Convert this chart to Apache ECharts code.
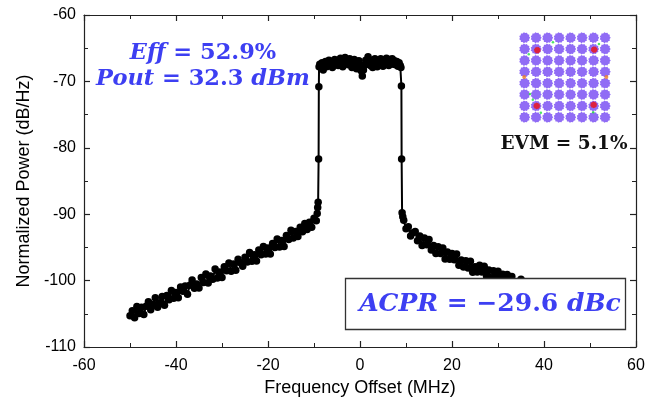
<!DOCTYPE html>
<html><head><meta charset="utf-8">
<script src="https://cdn.jsdelivr.net/npm/echarts@6/dist/echarts.min.js"></script>
<style>html,body{margin:0;padding:0;background:#fff}#c{width:660px;height:408px}</style>
</head><body><div id="c"></div>
<script>
// Spectrum data (MHz, dB/Hz)
const leftFreq = [-50,-49.5,-49,-48.5,-48,-47.5,-47,-46.5,-46,-45.5,-45,-44.5,-44,-43.5,-43,-42.5,-42,-41.5,-41,-40.5,-40,-39.5,-39,-38.5,-38,-37.5,-37,-36.5,-36,-35.5,-35,-34.5,-34,-33.5,-33,-32.5,-32,-31.5,-31,-30.5,-30,-29.5,-29,-28.5,-28,-27.5,-27,-26.5,-26,-25.5,-25,-24.5,-24,-23.5,-23,-22.5,-22,-21.5,-21,-20.5,-20,-19.5,-19,-18.5,-18,-17.5,-17,-16.5,-16,-15.5,-15,-14.5,-14,-13.5,-13,-12.5,-12,-11.5,-11,-10.5,-10,-9.5,-9.3,-9.2,-9.1,-9.0,-8.95,-8.9];
const leftPower = [-105.3,-104.55,-105.6,-103.9,-104.95,-104.0,-105.1,-103.85,-103.2,-104.4,-103.55,-102.6,-104.0,-103.35,-102.4,-103.7,-102.25,-102.9,-101.5,-102.65,-101.8,-102.6,-100.95,-101.6,-100.8,-102.05,-100.7,-99.9,-101.15,-100.5,-101.1,-99.55,-100.3,-99.0,-100.35,-99.3,-99.8,-98.25,-99.6,-98.7,-99.55,-97.9,-98.5,-97.35,-98.6,-97.5,-98.45,-96.8,-97.3,-97.85,-96.5,-97.2,-95.75,-97.1,-96.1,-97.05,-95.4,-96.1,-94.85,-96.0,-95.1,-96.0,-94.4,-95.0,-93.75,-94.95,-93.95,-94.85,-93.2,-93.8,-92.4,-93.6,-92.6,-93.35,-91.95,-92.65,-91.4,-92.3,-91.2,-91.95,-90.6,-91.0,-89.9,-89.0,-88.2,-81.7,-70.8,-67.8];
const topFreq = [-8.75,-8.5,-8.25,-8,-7.75,-7.5,-7.25,-7,-6.75,-6.5,-6.25,-6,-5.75,-5.5,-5.25,-5,-4.75,-4.5,-4.25,-4,-3.75,-3.5,-3.25,-3,-2.75,-2.5,-2.25,-2,-1.75,-1.5,-1.25,-1,-0.75,-0.5,-0.25,0,0.25,0.5,0.75,1,1.25,1.5,1.75,2,2.25,2.5,2.75,3,3.25,3.5,3.75,4,4.25,4.5,4.75,5,5.25,5.5,5.75,6,6.25,6.5,6.75,7,7.25,7.5,7.75,8,8.25,8.5,8.75];
const topPower = [-67.4,-67.9,-67.2,-68.3,-67.6,-67.0,-67.8,-67.3,-66.8,-67.5,-67.1,-67.9,-67.3,-66.7,-67.4,-66.9,-67.6,-67.2,-66.5,-67.3,-67.8,-67.0,-66.4,-67.1,-66.8,-67.5,-66.6,-67.2,-67.9,-67.3,-66.7,-67.4,-68.1,-67.5,-66.9,-67.6,-68.4,-69.2,-68.3,-67.5,-66.8,-67.4,-66.3,-67.0,-67.6,-66.8,-67.9,-67.3,-66.6,-67.2,-67.8,-66.9,-67.5,-66.6,-67.1,-67.7,-66.8,-67.3,-66.5,-67.0,-67.6,-66.7,-67.2,-66.6,-67.4,-66.9,-67.5,-67.0,-67.7,-67.2,-67.6];
const rightFreq = [8.9,9.0,9.05,9.15,9.3,9.5,10,10.5,11,11.5,12,12.5,13,13.5,14,14.5,15,15.5,16,16.5,17,17.5,18,18.5,19,19.5,20,20.5,21,21.5,22,22.5,23,23.5,24,24.5,25,25.5,26,26.5,27,27.5,28,28.5,29,29.5,30,30.5,31,31.5,32,32.5,33,34,35,36,37,38,39,40,41,42,43,44,45,46,47,48,49,50];
const rightPower = [-67.9,-70.7,-81.7,-89.8,-90.4,-90.9,-92.2,-91.9,-93.3,-92.8,-92.6,-94.0,-93.3,-94.7,-93.6,-94.6,-93.8,-95.4,-94.7,-95.9,-94.9,-95.9,-95.1,-96.75,-95.7,-96.8,-95.9,-96.85,-96.0,-97.7,-96.9,-97.95,-97.0,-98.1,-97.1,-98.75,-97.9,-98.7,-97.7,-98.7,-97.85,-99.3,-98.4,-99.6,-98.5,-99.3,-98.6,-99.8,-99.05,-100.0,-99.1,-99.85,-99.4,-100.2,-99.8,-100.6,-100.3,-101.0,-100.6,-101.2,-100.9,-101.6,-101.3,-101.9,-101.5,-102.1,-101.8,-102.5,-102.0,-102.4];

const xTicks = {min: -60, max: 60, interval: 20};
const yTicks = {min: -110, max: -60, interval: 10};

// 64-QAM constellation levels
const qamLevels = [-7,-5,-3,-1,1,3,5,7];
const redPoints = [[-4.8,4.8],[5.1,4.9],[-4.9,-5.0],[5.0,-4.8]];
const orangePoints = [[-7.1,0.1],[7.2,0.1]];
const greenPoints = [[-6.1,-2.9],[-5.6,-3.9],[-6.3,4.1],[-4.2,-6.2],[4.9,-6.1],[-2.1,6.2],[5.9,5.9]];

const annotations = {eff: '52.9%', pout: '32.3', acpr: '−29.6', evm: '5.1%'};

function zip(a,b){return a.map((v,i)=>[v,b[i]]);}
const spectrum = zip(leftFreq,leftPower).concat(zip(topFreq,topPower),zip(rightFreq,rightPower));
const qam = [];
qamLevels.forEach(i=>qamLevels.forEach(q=>qam.push([i,q])));

// fuzzy blob symbol
function blobPath(n){
  let s='path://';
  for(let k=0;k<n;k++){
    const a=k/n*Math.PI*2; const r=(k%2===0)?10:8.3;
    s+=(k===0?'M':'L')+(r*Math.cos(a)).toFixed(2)+','+(r*Math.sin(a)).toFixed(2);
  }
  return s+'Z';
}
const blob = blobPath(22);

function axisCommon(){
  return {
    axisLine:{show:true,onZero:false,lineStyle:{color:'#222',width:1.2}},
    axisTick:{show:true,inside:true,length:6,lineStyle:{color:'#222',width:1.2}},
    minorTick:{show:true,splitNumber:2,length:4,lineStyle:{color:'#222',width:1}},
    splitLine:{show:false}
  };
}
const serif = '"DejaVu Serif", serif';
const blue = '#3d3ff2';
const richMath = (size)=>({
  i:{fontFamily:serif,fontStyle:'italic',fontWeight:'bold',fontSize:size,fill:blue},
  n:{fontFamily:serif,fontWeight:'bold',fontSize:size,fill:blue}
});

const chart = echarts.init(document.getElementById('c'));
chart.setOption({
  animation:false,
  backgroundColor:'#fff',
  grid:[{left:84,right:24,top:15,bottom:61},{left:519,width:92,top:32,height:91}],
  xAxis:[
    Object.assign(axisCommon(),{type:'value',gridIndex:0,min:xTicks.min,max:xTicks.max,interval:xTicks.interval,
      name:'Frequency Offset (MHz)',nameLocation:'middle',nameGap:28,
      nameTextStyle:{fontFamily:'Liberation Sans',fontSize:18,color:'#000'},
      axisLabel:{fontFamily:'Liberation Sans',fontSize:16,color:'#000',margin:11}}),
    Object.assign(axisCommon(),{type:'value',gridIndex:0,position:'top',min:xTicks.min,max:xTicks.max,interval:xTicks.interval,axisLabel:{show:false}}),
    {type:'value',gridIndex:1,min:-8,max:8,show:false}
  ],
  yAxis:[
    Object.assign(axisCommon(),{type:'value',gridIndex:0,min:yTicks.min,max:yTicks.max,interval:yTicks.interval,
      name:'Normalized Power (dB/Hz)',nameLocation:'middle',nameGap:49,
      nameTextStyle:{fontFamily:'Liberation Sans',fontSize:18,color:'#000'},
      axisLabel:{fontFamily:'Liberation Sans',fontSize:16,color:'#000',margin:8}}),
    Object.assign(axisCommon(),{type:'value',gridIndex:0,position:'right',min:yTicks.min,max:yTicks.max,interval:yTicks.interval,axisLabel:{show:false}}),
    {type:'value',gridIndex:1,min:-8,max:8,show:false}
  ],
  series:[
    {type:'line',xAxisIndex:0,yAxisIndex:0,data:spectrum,symbol:'circle',symbolSize:7.5,showSymbol:true,
      itemStyle:{color:'#000'},lineStyle:{color:'#000',width:2},z:3},
    {type:'scatter',xAxisIndex:2,yAxisIndex:2,data:qam,symbol:blob,symbolSize:11,itemStyle:{color:'#7447f2'},z:5},
    {type:'scatter',xAxisIndex:2,yAxisIndex:2,data:redPoints,symbol:blob,symbolSize:7,itemStyle:{color:'#f01010'},z:6},
    {type:'scatter',xAxisIndex:2,yAxisIndex:2,data:orangePoints,symbol:'circle',symbolSize:4,itemStyle:{color:'#f08020'},z:6},
    {type:'scatter',xAxisIndex:2,yAxisIndex:2,data:greenPoints,symbol:'circle',symbolSize:2.5,itemStyle:{color:'#20e040'},z:6}
  ],
  graphic:[
    {type:'rect',z:100,shape:{x:345.5,y:278.5,width:280,height:51},style:{fill:'#fff',stroke:'#333',lineWidth:1.3}},
    {type:'text',z:101,x:203,y:53,style:{text:'{i|Eff}{n| = '+annotations.eff+'}',align:'center',verticalAlign:'middle',rich:richMath(22.5)}},
    {type:'text',z:101,x:203,y:79,style:{text:'{i|Pout}{n| = '+annotations.pout+' }{i|dBm}',align:'center',verticalAlign:'middle',rich:richMath(22.5)}},
    {type:'text',z:101,x:490,y:304,style:{text:'{i|ACPR}{n| = '+annotations.acpr+' }{i|dBc}',align:'center',verticalAlign:'middle',rich:richMath(25)}},
    {type:'text',z:101,x:564,y:144,style:{text:'EVM = '+annotations.evm,align:'center',verticalAlign:'middle',
      fontFamily:serif,fontWeight:'bold',fontSize:18.5,fill:'#111'}}
  ]
});
</script></body></html>
